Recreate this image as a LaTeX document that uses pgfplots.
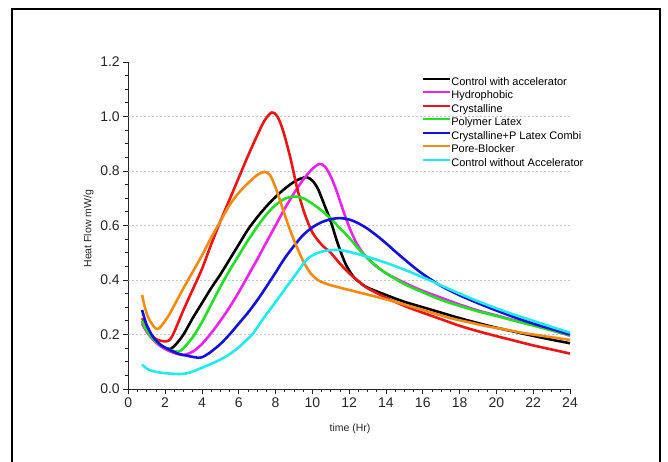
\documentclass[border=0pt]{standalone}
\usepackage{pgfplots}
\pgfplotsset{compat=1.18}
\usepackage{fontspec}
\setmainfont{Liberation Sans}
\definecolor{cRed}{HTML}{EC1414}
\definecolor{cMag}{HTML}{EE22EE}
\definecolor{cGreen}{HTML}{22E022}
\definecolor{cBlue}{HTML}{1212DC}
\definecolor{cOrange}{HTML}{F48A12}
\definecolor{cCyan}{HTML}{22EAF0}
\begin{document}
\begin{tikzpicture}[x=1pt,y=1pt]
\useasboundingbox (0,0) rectangle (668,461);
\draw[line width=2.6pt] (12,-10) -- (12,452) -- (660,452) -- (660,-10);
\begin{axis}[
  at={(128.3pt,72pt)}, anchor=south west,
  scale only axis, width=441.7pt, height=327pt,
  xmin=0, xmax=24, ymin=0, ymax=1.2,
  axis lines*=left,
  axis line style={line width=0.9pt, black!85},
  xtick={0,2,...,24}, ytick={0,0.2,...,1.2},
  minor x tick num=3, minor y tick num=3,
  tick align=outside,
  major tick length=5pt, minor tick length=3pt,
  tick style={line width=0.8pt, black!85},
  yticklabel style={/pgf/number format/.cd, fixed, fixed zerofill, precision=1},
  /pgf/number format/assume math mode=true,
  ticklabel style={font=\fontsize{14}{16}\selectfont, text=black!85},
  xlabel={time (Hr)}, ylabel={Heat Flow mW/g},
  every axis x label/.style={at={(axis description cs:0.502,-0.122)}, anchor=center, font=\fontsize{10.5}{12}\selectfont, text=black!85},
  every axis y label/.style={at={(axis description cs:-0.090,0.49)}, anchor=center, rotate=90, font=\fontsize{10.5}{12}\selectfont, text=black!85},
  legend style={at={(axis description cs:0.6675,0.957)}, anchor=north west, draw=none, fill=none,
    inner sep=0pt, font=\fontsize{11}{12}\selectfont, row sep=1pt,
    nodes={inner sep=1pt, text height=8pt, text depth=2.5pt}},
  legend cell align=left,
  legend image code/.code={\path[#1, draw=none, fill] (0pt,2.6pt) rectangle (27pt,4.6pt);},
  every axis plot/.append style={line width=2.6pt},
]
\pgfplotsinvokeforeach{0.2,0.4,0.6,0.8,1.0}{
  \draw[gray!45, line width=0.6pt, dash pattern=on 2pt off 2pt] (axis cs:0,#1) -- (axis cs:24,#1);
}
\addplot[black, smooth, tension=0.5] coordinates {(0.75,0.25)(1.0,0.215)(1.4,0.18)(1.8,0.158)(2.1,0.148)(2.3,0.147)(2.6,0.165)(3,0.2)(3.5,0.26)(4,0.315)(4.5,0.37)(5,0.42)(5.5,0.475)(6,0.53)(6.5,0.585)(7,0.63)(7.5,0.67)(8,0.705)(8.5,0.735)(9,0.76)(9.4,0.773)(9.7,0.777)(10.0,0.765)(10.3,0.735)(10.6,0.685)(11,0.615)(11.4,0.53)(11.8,0.46)(12.2,0.415)(12.6,0.39)(13,0.372)(14,0.345)(15,0.32)(16,0.3)(17,0.28)(18,0.26)(19,0.242)(20,0.225)(21,0.21)(22,0.195)(23,0.181)(24,0.168)};
\addlegendentry{Control with accelerator}
\addplot[cMag, smooth, tension=0.5] coordinates {(0.75,0.24)(1.0,0.21)(1.4,0.177)(1.8,0.155)(2.2,0.14)(2.6,0.13)(3.0,0.125)(3.5,0.137)(4,0.165)(4.5,0.205)(5,0.25)(5.5,0.3)(6,0.355)(6.5,0.415)(7,0.475)(7.5,0.538)(8,0.6)(8.5,0.662)(9,0.718)(9.5,0.768)(10,0.808)(10.4,0.826)(10.7,0.815)(11,0.78)(11.3,0.73)(11.6,0.67)(12,0.595)(12.4,0.535)(12.8,0.495)(13.3,0.46)(14,0.425)(15,0.39)(16,0.36)(17,0.335)(18,0.31)(19,0.288)(20,0.27)(21,0.252)(22,0.235)(23,0.216)(24,0.196)};
\addlegendentry{Hydrophobic}
\addplot[cRed, smooth, tension=0.5] coordinates {(0.75,0.26)(1.0,0.225)(1.3,0.195)(1.6,0.18)(2.0,0.175)(2.25,0.18)(2.5,0.21)(3,0.29)(3.5,0.365)(4,0.44)(4.5,0.53)(5,0.615)(5.5,0.695)(6,0.775)(6.5,0.855)(7,0.93)(7.4,0.985)(7.8,1.015)(8.1,1.0)(8.4,0.95)(8.8,0.85)(9.2,0.73)(9.6,0.64)(10,0.575)(10.5,0.53)(11,0.5)(11.5,0.46)(12,0.425)(12.5,0.395)(13,0.37)(14,0.335)(15,0.305)(16,0.28)(17,0.256)(18,0.232)(19,0.212)(20,0.194)(21,0.177)(22,0.16)(23,0.145)(24,0.13)};
\addlegendentry{Crystalline}
\addplot[cGreen, smooth, tension=0.5] coordinates {(0.75,0.25)(1.0,0.215)(1.4,0.18)(1.8,0.16)(2.2,0.145)(2.7,0.137)(3.0,0.15)(3.5,0.19)(4,0.245)(4.5,0.31)(5,0.375)(5.5,0.435)(6,0.49)(6.5,0.545)(7,0.595)(7.5,0.64)(8,0.675)(8.5,0.698)(9,0.706)(9.5,0.7)(10,0.68)(10.5,0.655)(11,0.625)(11.5,0.59)(12,0.555)(12.5,0.515)(13,0.48)(13.5,0.45)(14,0.425)(15,0.385)(16,0.355)(17,0.327)(18,0.305)(19,0.285)(20,0.268)(21,0.25)(22,0.233)(23,0.215)(24,0.198)};
\addlegendentry{Polymer Latex}
\addplot[cBlue, smooth, tension=0.5] coordinates {(0.75,0.29)(1.0,0.235)(1.36,0.19)(1.8,0.16)(2.27,0.143)(2.7,0.13)(3.2,0.122)(3.9,0.115)(4.4,0.132)(5,0.165)(5.5,0.2)(6,0.24)(6.5,0.28)(7,0.325)(7.5,0.375)(8,0.427)(8.5,0.48)(9,0.525)(9.5,0.565)(10,0.593)(10.5,0.612)(11,0.623)(11.5,0.627)(12,0.622)(12.5,0.608)(13,0.588)(13.5,0.563)(14,0.535)(14.5,0.505)(15,0.476)(15.5,0.448)(16,0.422)(17,0.378)(18,0.344)(19,0.315)(20,0.288)(21,0.263)(22,0.24)(23,0.22)(24,0.2)};
\addlegendentry{Crystalline+P Latex Combi}
\addplot[cOrange, smooth, tension=0.5] coordinates {(0.75,0.345)(0.9,0.3)(1.1,0.26)(1.4,0.228)(1.6,0.22)(1.8,0.232)(2.2,0.27)(2.6,0.32)(3,0.37)(3.5,0.43)(4,0.49)(4.5,0.555)(5,0.615)(5.5,0.675)(6,0.72)(6.5,0.755)(7,0.785)(7.4,0.797)(7.7,0.785)(8,0.74)(8.3,0.68)(8.7,0.6)(9.1,0.53)(9.5,0.47)(9.9,0.425)(10.3,0.4)(10.8,0.385)(11.5,0.372)(12.5,0.355)(13.5,0.338)(14.5,0.32)(15.5,0.3)(16.5,0.28)(17.5,0.26)(18.5,0.245)(19.5,0.23)(20.5,0.218)(21.5,0.205)(22.5,0.195)(24,0.18)};
\addlegendentry{Pore-Blocker}
\addplot[cCyan, smooth, tension=0.5] coordinates {(0.75,0.09)(1.0,0.075)(1.36,0.065)(2.0,0.058)(2.8,0.055)(3.2,0.058)(3.5,0.064)(4.0,0.078)(4.6,0.095)(5.2,0.115)(5.7,0.137)(6.2,0.165)(6.79,0.205)(7.3,0.255)(7.9,0.31)(8.6,0.375)(9.2,0.43)(9.7,0.475)(10.2,0.497)(10.8,0.508)(11.5,0.51)(12.2,0.5)(13,0.485)(14,0.463)(15,0.438)(16,0.41)(17,0.38)(18,0.35)(19,0.322)(20,0.296)(21,0.272)(22,0.25)(23,0.228)(24,0.207)};
\addlegendentry{Control without Accelerator}
\end{axis}
\end{tikzpicture}
\end{document}
